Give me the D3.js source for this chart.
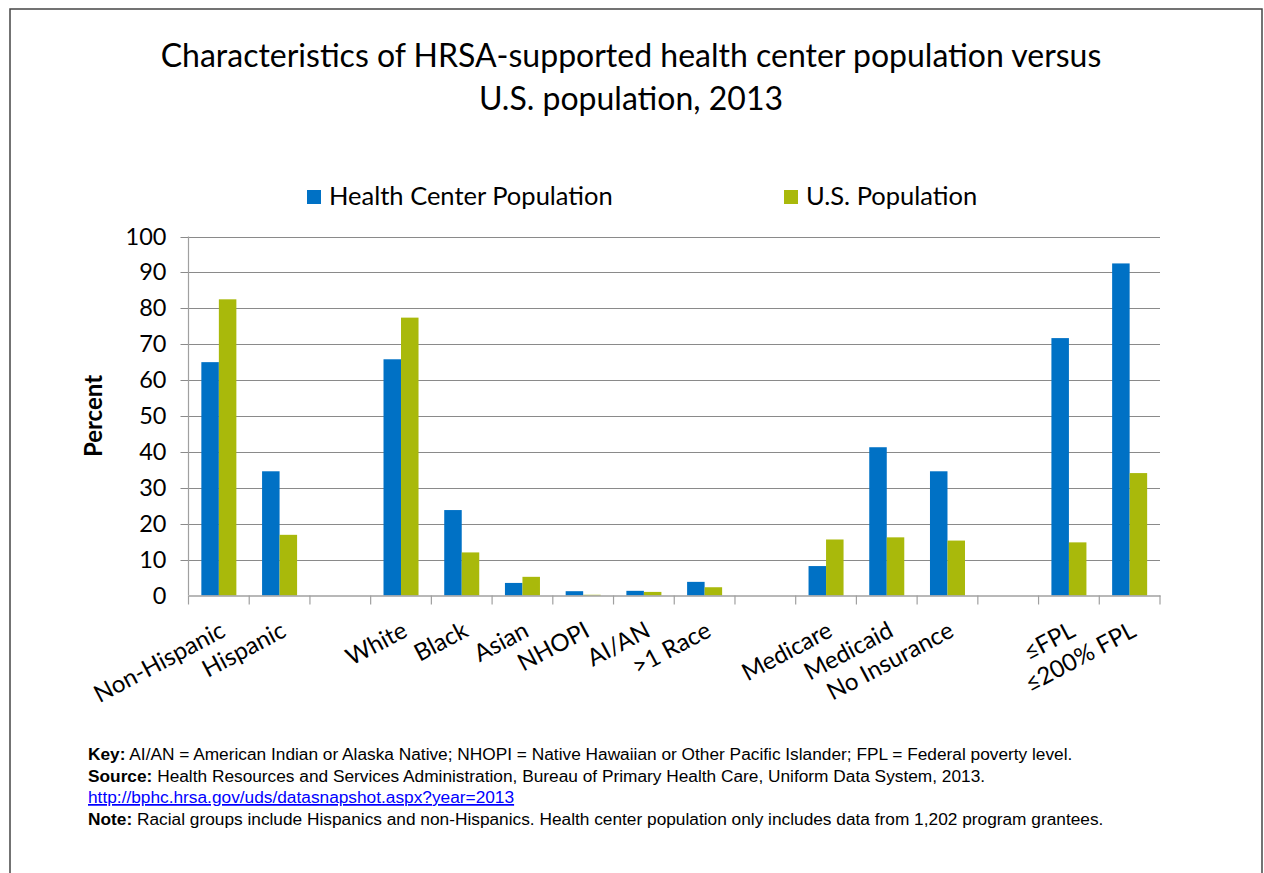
<!DOCTYPE html>
<html>
<head>
<meta charset="utf-8">
<script src="https://cdn.jsdelivr.net/npm/d3@7"></script>
<style>
  html, body { margin: 0; padding: 0; background: #fff; }
  svg { display: block; }
</style>
</head>
<body>
<svg id="chart" width="1264" height="873"></svg>
<script>
// ---- Data ----
const categories = ["Non-Hispanic", "Hispanic", "", "White", "Black", "Asian", "NHOPI", "AI/AN", ">1 Race", "", "Medicare", "Medicaid", "No Insurance", "", "\u2264FPL", "\u2264200% FPL"];
const healthCenter = [65.0, 34.6, null, 65.8, 23.8, 3.5, 1.2, 1.3, 3.8, null, 8.2, 41.3, 34.6, null, 71.7, 92.5];
const usPopulation = [82.5, 16.9, null, 77.4, 12.0, 5.2, 0.2, 1.0, 2.3, null, 15.6, 16.2, 15.3, null, 14.8, 34.1];
const seriesNames = ["Health Center Population", "U.S. Population"];
const yTicks = [0, 10, 20, 30, 40, 50, 60, 70, 80, 90, 100];
const titleLines = ["Characteristics of HRSA-supported health center population versus", "U.S. population, 2013"];
const notes = [
  [["Key:", true], [" AI/AN = American Indian or Alaska Native; NHOPI = Native Hawaiian or Other Pacific Islander; FPL = Federal poverty level.", false]],
  [["Source:", true], [" Health Resources and Services Administration, Bureau of Primary Health Care, Uniform Data System, 2013.", false]],
  [["http://bphc.hrsa.gov/uds/datasnapshot.aspx?year=2013", "link"]],
  [["Note:", true], [" Racial groups include Hispanics and non-Hispanics. Health center population only includes data from 1,202 program grantees.", false]]
];

const colors = ["#0071C5", "#A9B90B"];
const font = "Lato, 'Open Sans', sans-serif";

const svg = d3.select("#chart");

// Border
svg.append("rect").attr("x", 10).attr("y", 9).attr("width", 1252).attr("height", 880)
  .attr("fill", "none").attr("stroke", "#454545").attr("stroke-width", 1.5);

// Title
svg.append("g").selectAll("text").data(titleLines).join("text")
  .attr("x", 631).attr("y", (d, i) => 67 + i * 43)
  .attr("text-anchor", "middle").attr("font-family", font).attr("font-size", 32)
  .attr("fill", "#000").text(d => d);

// Scales
const plot = { left: 188.5, right: 1160, top: 236.5, bottom: 595.5 };
const idx = categories.map((d, i) => i);
const x = d3.scaleBand().domain(idx).range([plot.left, plot.right]).paddingInner(0).paddingOuter(0);
const xs = d3.scaleBand().domain([0, 1]).range([0, x.bandwidth()]).paddingInner(0).paddingOuter(0.734);
const y = d3.scaleLinear().domain([0, 100]).range([plot.bottom, plot.top]);

// Gridlines
svg.append("g").selectAll("line").data(yTicks.filter(t => t > 0)).join("line")
  .attr("x1", plot.left - 8).attr("x2", plot.right)
  .attr("y1", d => Math.round(y(d)) + 0.5).attr("y2", d => Math.round(y(d)) + 0.5)
  .attr("stroke", "#8a8a8a").attr("stroke-width", 1.2);

// Y axis
const yAxis = d3.axisLeft(y).tickValues(yTicks).tickSize(0).tickPadding(14);
const yg = svg.append("g").attr("transform", `translate(${plot.left - 8},0)`).call(yAxis);
yg.select(".domain").remove();
yg.selectAll("text").attr("font-family", font).attr("font-size", 23.5).attr("fill", "#000");

svg.append("line").attr("x1", plot.left).attr("x2", plot.left)
  .attr("y1", plot.top).attr("y2", plot.bottom)
  .attr("stroke", "#a0a0a0").attr("stroke-width", 1.2);

// Y axis title
svg.append("text").attr("transform", `translate(102,416) rotate(-90)`)
  .attr("text-anchor", "middle").attr("font-family", font).attr("font-weight", "bold")
  .attr("font-size", 24).text("Percent");

// Bars
const series = [healthCenter, usPopulation];
series.forEach((vals, s) => {
  svg.append("g").selectAll("rect").data(vals.map((v, i) => ({ v, i })).filter(d => d.v != null)).join("rect")
    .attr("x", d => x(d.i) + xs(s))
    .attr("width", xs.bandwidth())
    .attr("y", d => y(d.v))
    .attr("height", d => y(0) - y(d.v))
    .attr("fill", colors[s]);
});

// X axis
const xAxis = d3.axisBottom(x).tickSize(0).tickFormat(() => "");
const xg = svg.append("g").attr("transform", `translate(0,${plot.bottom})`).call(xAxis);
xg.select(".domain").attr("stroke", "#a0a0a0").attr("stroke-width", 1.5);
// Tick marks at band boundaries
const bounds = idx.map(i => x(i)).concat([plot.right]);
svg.append("g").selectAll("line").data(bounds).join("line")
  .attr("x1", d => d).attr("x2", d => d)
  .attr("y1", plot.bottom).attr("y2", plot.bottom + 9)
  .attr("stroke", "#a0a0a0").attr("stroke-width", 1.2);

// X labels rotated
svg.append("g").selectAll("text").data(idx.filter(i => categories[i] !== "")).join("text")
  .attr("transform", i => `translate(${x(i) + x.bandwidth() / 2 + 8},${plot.bottom + 40}) rotate(-28)`)
  .attr("text-anchor", "end").attr("font-family", font).attr("font-size", 24)
  .attr("fill", "#000").text(i => categories[i]);

// Legend
const legendItems = [{ x: 307, name: seriesNames[0] }, { x: 784, name: seriesNames[1] }];
const lg = svg.append("g").selectAll("g").data(legendItems).join("g")
  .attr("transform", d => `translate(${d.x},190)`);
lg.append("rect").attr("width", 14).attr("height", 14).attr("y", 0).attr("fill", (d, i) => colors[i]);
lg.append("text").attr("x", 22).attr("y", 15).attr("font-family", font).attr("font-size", 25.5)
  .attr("fill", "#000").text(d => d.name);

// Footnotes
const ng = svg.append("g");
notes.forEach((line, li) => {
  const t = ng.append("text").attr("x", 88).attr("y", 760 + li * 21.5)
    .attr("font-family", "'Liberation Sans', Arial, sans-serif").attr("font-size", 17.3).attr("fill", "#000");
  line.forEach(([txt, style]) => {
    const ts = t.append("tspan").text(txt);
    if (style === true) ts.attr("font-weight", "bold");
    if (style === "link") ts.attr("fill", "#0000FF").attr("text-decoration", "underline");
  });
});
</script>
</body>
</html>
